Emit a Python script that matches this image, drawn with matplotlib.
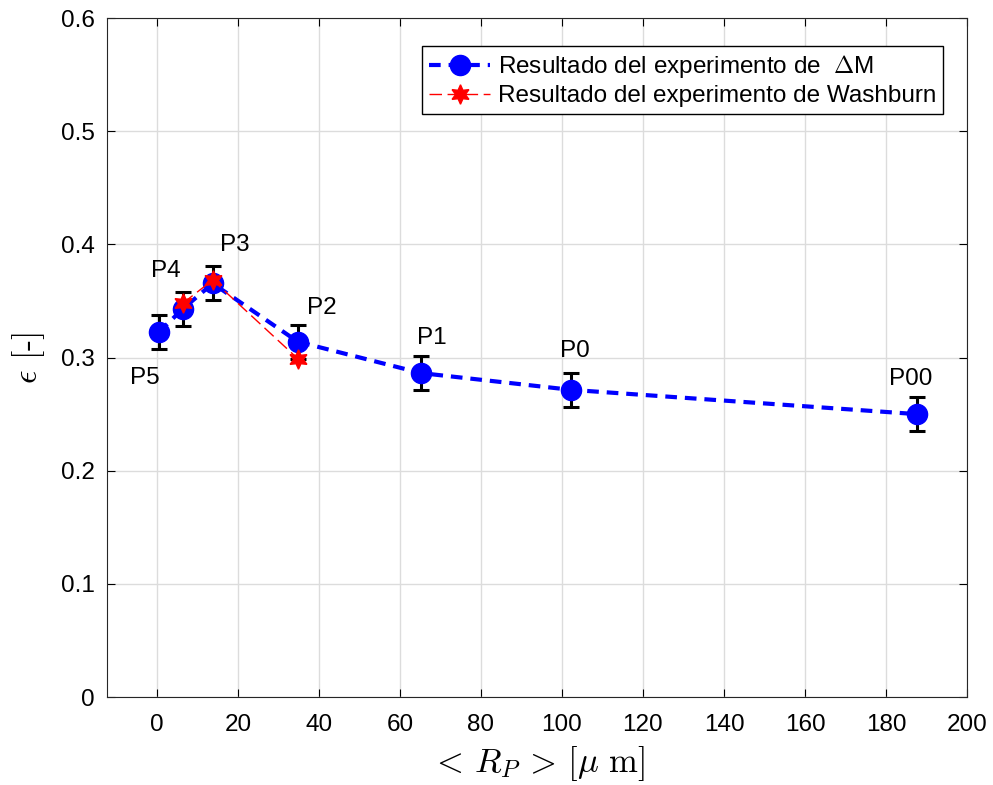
import numpy as np
from matplotlib import pyplot as plt

plt.rcParams['font.family'] = ['Liberation Sans', 'DejaVu Sans']
plt.rcParams['mathtext.fontset'] = 'cm'

# mean pore radius [um] and porosity for each sample
names = ['P5', 'P4', 'P3', 'P2', 'P1', 'P0', 'P00']
rp = [0.5, 6.4, 13.8, 34.8, 65.2, 102.2, 187.7]
eps_dm = [0.3225, 0.343, 0.3655, 0.314, 0.2863, 0.2715, 0.250]
eps_err = [0.015, 0.015, 0.015, 0.015, 0.015, 0.015, 0.015]

# Washburn results only for P4, P3, P2
rp_wash = [6.4, 13.8, 34.8]
eps_wash = [0.348, 0.3685, 0.299]

# label offsets in points (dx, dy)
offsets = [(-10, -33), (-12, 27), (16, 28), (17, 24), (8, 25), (3, 28), (-5, 25)]

fig = plt.figure(figsize=(9.93, 7.85), dpi=100)
ax = fig.add_axes([0.1078, 0.112, 0.866, 0.865])

ax.errorbar(rp, eps_dm, yerr=eps_err, fmt='none', ecolor='black',
            elinewidth=2.2, capsize=5.5, capthick=2.2, zorder=2)
ax.plot(rp, eps_dm, '--', color='blue', lw=3, marker='o', markersize=14.5,
        dashes=(2.8, 1.9), label=r'Resultado del experimento de  $\Delta$M', zorder=3)
ax.plot(rp_wash, eps_wash, '--', color='red', lw=1, marker=(6, 1, 0),
        markersize=14, dashes=(9, 4), label='Resultado del experimento de Washburn', zorder=4)

for name, x, y, (dx, dy) in zip(names, rp, eps_dm, offsets):
    ax.annotate(name, (x, y), xytext=(dx, dy), textcoords='offset points',
                ha='center', va='center', fontsize=17.5)

ax.set_xlim(-12.3, 200)
ax.set_ylim(0, 0.6)
ax.set_xticks(np.arange(0, 201, 20))
ax.set_yticks(np.arange(0, 0.61, 0.1))
ax.set_yticklabels(['0', '0.1', '0.2', '0.3', '0.4', '0.5', '0.6'])
ax.tick_params(direction='in', labelsize=17.5, length=6, top=True, right=True, pad=9)
ax.tick_params(axis='x', pad=12)
ax.grid(True, color='#dcdcdc', lw=1)
for s in ax.spines.values():
    s.set_color('#262626')

ax.set_xlabel(r'$<\,R_P\,>\,[\mu\ \mathrm{m}]$', fontsize=25, labelpad=6)
ax.set_ylabel(r'$\epsilon$ [-]', fontsize=24, family='cmr10', labelpad=10)

leg = ax.legend(loc='upper right', bbox_to_anchor=(0.978, 0.966), fontsize=17.5,
                fancybox=False, edgecolor='black', framealpha=1,
                handlelength=2.5, borderpad=0.3, labelspacing=0.2, handletextpad=0.3,
                borderaxespad=0.2)
leg.get_frame().set_linewidth(1)

fig.savefig('out.png', dpi=100)
